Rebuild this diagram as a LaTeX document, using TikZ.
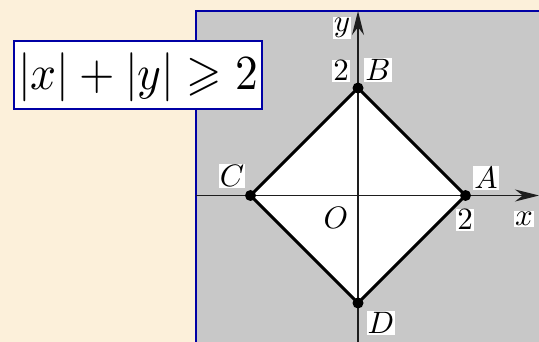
\documentclass[tikz,border=0pt]{standalone}
\usepackage{graphicx}
\usepackage{amssymb}
\usetikzlibrary{arrows.meta}
\definecolor{bgcream}{RGB}{252,240,218}
\definecolor{panelgray}{RGB}{200,200,200}
\definecolor{frameblue}{RGB}{0,0,165}
\definecolor{axisgray}{RGB}{30,30,30}
\newcommand{\lbltext}[1]{\scalebox{3.1}{$#1$}}
\tikzset{
  lbl/.style={fill=white, inner sep=1pt},
  axisline/.style={draw=axisgray, line width=1.5pt, -{Stealth[length=24pt,width=12pt]}},
  edge/.style={draw=black, line width=3pt, line join=miter},
  vdot/.style={fill=black}
}
\begin{document}
\begin{tikzpicture}[x=1pt,y=-1pt]
\useasboundingbox (0,0) rectangle (539,342);
\clip (0,0) rectangle (539,342);
\fill[bgcream] (0,0) rectangle (539,342);
% panel
\draw[fill=panelgray, draw=frameblue, line width=2.8pt] (196,11) rectangle (560,360);
% points
\coordinate (O) at (358,195.5);
\coordinate (A) at (465.5,195.5);
\coordinate (B) at (358,88);
\coordinate (C) at (250.5,195.5);
\coordinate (D) at (358,303);
\coordinate (xs) at (196,195.5);
\coordinate (xe) at (539,195.5);
\coordinate (ys) at (358,342);
\coordinate (ye) at (358,11);
% diamond fill
\fill[white] (A) -- (B) -- (C) -- (D) -- cycle;
% axes
\draw[axisline] (xs) -- (xe);
\draw[axisline] (ys) -- (ye);
% diamond edges
\draw[edge] (A) -- (B) -- (C) -- (D) -- cycle;
% dots
\foreach \p in {A,B,C,D} \fill[vdot] (\p) circle (5.5pt);
% labels
\node[lbl] (ly) at (342,28) {\lbltext{y}};
\node[lbl] (l2b) at (341,71) {\lbltext{2}};
\node[lbl] (lB) at (378,70) {\lbltext{B}};
\node[lbl] (lC) at (232,176) {\lbltext{C}};
\node[lbl] (lA) at (486,178) {\lbltext{A}};
\node[lbl] (l2a) at (465,220) {\lbltext{2}};
\node[lbl] (lx) at (524,219) {\lbltext{x}};
\node[lbl, fill=none] (lO) at (336,218) {\lbltext{O}};
\node[lbl] (lD) at (381,323) {\lbltext{D}};
% formula box
\node[draw=frameblue, fill=white, line width=2.8pt, minimum width=248pt, minimum height=68pt, inner sep=0pt] (f) at (138,75) {};
\node[inner sep=0pt] (ft) at ([yshift=-2pt]f.center) {\scalebox{4.55}[4.9]{$|x|+|y|\geqslant 2$}};
\end{tikzpicture}
\end{document}
